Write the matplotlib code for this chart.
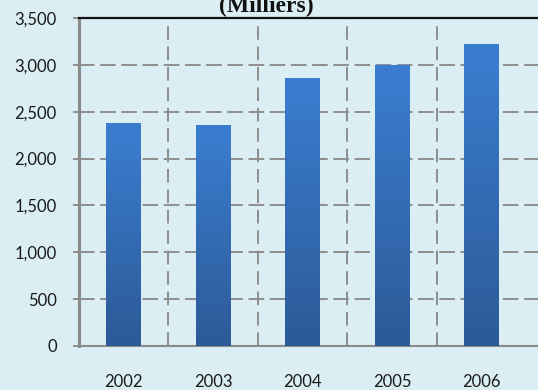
import matplotlib.pyplot as plt
import numpy as np

# data (thousands)
years = ['2002', '2003', '2004', '2005', '2006']
values = [2380, 2355, 2865, 2995, 3225]
yticks = [0, 500, 1000, 1500, 2000, 2500, 3000, 3500]

bg = '#dbeef4'
grid_col = '#8e8e8e'

fig = plt.figure(figsize=(5.38, 3.9), dpi=100, facecolor=bg)
ax = fig.add_axes([79 / 538, 44 / 390, 474 / 538, 328 / 390])
ax.set_facecolor(bg)

x = np.arange(len(years))
bars = ax.bar(x, values, width=0.39, color='none', zorder=3)

# vertical gradient inside each bar
grad = np.linspace(0, 1, 256).reshape(-1, 1)
cmap = plt.matplotlib.colors.LinearSegmentedColormap.from_list('b', ['#2c5a97', '#3b7ed1'])
for b in bars:
    x0, w, h = b.get_x(), b.get_width(), b.get_height()
    im = ax.imshow(grad, extent=(x0, x0 + w, 0, h), origin='lower', cmap=cmap,
                   aspect='auto', zorder=3)
    im.set_clip_path(b)

ax.set_xlim(-0.5, 4.8)
ax.set_ylim(0, 3500)

ax.set_yticks(yticks)
ax.set_yticklabels([f'{v:,}' for v in yticks])
ax.set_xticks(x)
ax.set_xticklabels(years)
ax.set_xticks(x[:-1] + 0.5, minor=True)

for lab in ax.get_xticklabels() + ax.get_yticklabels():
    lab.set_fontfamily('Lato')
    lab.set_fontsize(12)
    lab.set_color('#1a1a1a')

ax.tick_params(axis='y', length=4, width=1.4, color=grid_col, pad=12)
ax.tick_params(axis='x', which='both', length=0, pad=20)

ax.grid(axis='y', which='major', color=grid_col, lw=1.4, ls=(0, (8, 2.9)), zorder=1)
ax.grid(axis='x', which='minor', color=grid_col, lw=1.4, ls=(0, (7, 3.5)), zorder=1)
ax.grid(axis='x', which='major', visible=False)

ax.spines['left'].set_color('#8a8a8a')
ax.spines['left'].set_linewidth(2.2)
ax.spines['bottom'].set_color('#8a8a8a')
ax.spines['bottom'].set_linewidth(1.5)
ax.spines['top'].set_color('#111111')
ax.spines['top'].set_linewidth(1.6)
ax.spines['right'].set_visible(False)

fig.text(266 / 538, 1 - 12 / 390, '(Milliers)', ha='center', va='baseline',
         fontfamily='Liberation Serif', fontweight='bold', fontsize=17, color='#111111')

fig.savefig('out.png', dpi=100, facecolor=bg)
